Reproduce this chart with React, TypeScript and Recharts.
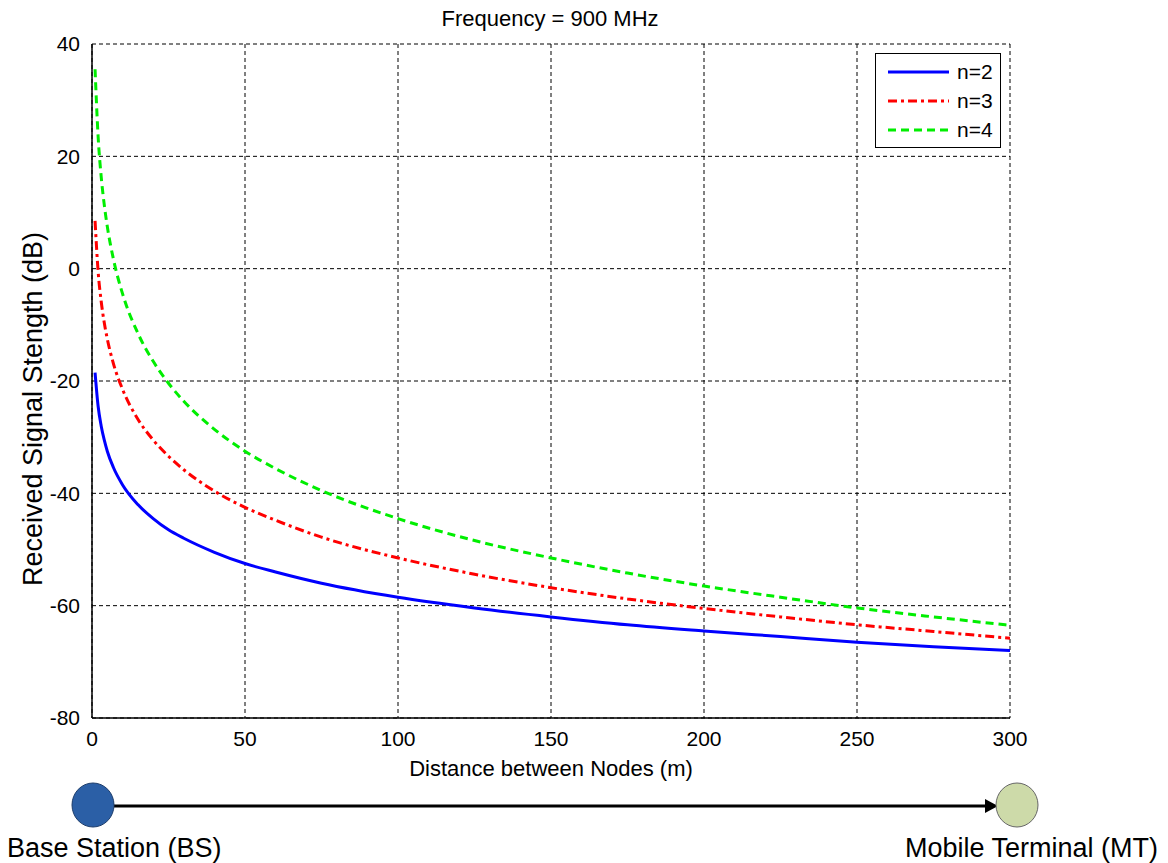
import { LineChart, Line, XAxis, YAxis, CartesianGrid, Legend } from 'recharts'

const distances = [1, 2, 3, 4, 5, 7, 10, 15, 20, 25, 30, 40, 50, 60, 75, 100, 125, 150, 175, 200, 225, 250, 275, 300]
const n2Values = [-18.5, -24.5, -28, -30.5, -32.5, -35.4, -38.5, -42, -44.5, -46.5, -48, -50.5, -52.5, -54, -56, -58.5, -60.4, -62, -63.4, -64.5, -65.5, -66.5, -67.3, -68]
const n3Values = [8.5, -0.5, -5.8, -9.6, -12.5, -16.9, -21.5, -26.8, -30.5, -33.4, -35.8, -39.6, -42.5, -44.8, -47.8, -51.5, -54.4, -56.8, -58.8, -60.5, -62, -63.4, -64.6, -65.8]
const n4Values = [35.5, 23.5, 16.4, 11.4, 7.5, 1.7, -4.5, -11.5, -16.5, -20.4, -23.6, -28.6, -32.5, -35.6, -39.5, -44.5, -48.4, -51.5, -54.2, -56.5, -58.5, -60.4, -62, -63.5]
const xTicks = [0, 50, 100, 150, 200, 250, 300]
const yTicks = [-80, -60, -40, -20, 0, 20, 40]

const seriesInfo = [
  { key: 'n2', name: 'n=2', color: '#0000ff', dash: undefined },
  { key: 'n3', name: 'n=3', color: '#ff0000', dash: '9 4 3 4' },
  { key: 'n4', name: 'n=4', color: '#00ee00', dash: '8 5' },
]

const data = distances.map((d, i) => ({ d, n2: n2Values[i], n3: n3Values[i], n4: n4Values[i] }))

const font = '"Liberation Sans", Arial, Helvetica, sans-serif'

function LegendBox() {
  return (
    <div style={{ border: '1px solid #000', background: '#fff', width: 126, height: 95, boxSizing: 'border-box', paddingTop: 3 }}>
      {seriesInfo.map((s) => (
        <div key={s.key} style={{ display: 'flex', alignItems: 'center', height: 29, fontFamily: font, fontSize: 21, color: '#000' }}>
          <svg width={80} height={10} style={{ marginLeft: 10 }}>
            <line x1={2} y1={5} x2={63} y2={5} stroke={s.color} strokeWidth={3} strokeDasharray={s.dash} />
          </svg>
          <span style={{ marginLeft: -9 }}>{s.name}</span>
        </div>
      ))}
    </div>
  )
}

export default function App() {
  return (
    <div style={{ position: 'absolute', left: 0, top: 0, width: 1168, height: 863, background: '#fff', fontFamily: font }}>
      <LineChart
        width={1168}
        height={863}
        data={data}
        margin={{ top: 44, right: 158, bottom: 105, left: 32 }}
      >
        <text x={550} y={26} textAnchor="middle" fontSize={22} fontFamily={font} fill="#000">
          Frequency = 900 MHz
        </text>
        <text
          x={0}
          y={0}
          transform="translate(42 409) rotate(-90)"
          textAnchor="middle"
          fontSize={27}
          fontFamily={font}
          fill="#000"
        >
          Received Signal Stength (dB)
        </text>
        <CartesianGrid stroke="#000" strokeDasharray="4 3" strokeWidth={1} />
        <XAxis
          dataKey="d"
          type="number"
          domain={[0, 300]}
          ticks={xTicks}
          allowDataOverflow
          height={40}
          axisLine={{ stroke: '#000', strokeWidth: 1.5 }}
          tickLine={false}
          tick={{ fill: '#000', fontSize: 21, fontFamily: font }}
          tickMargin={7}
          label={{ value: 'Distance between Nodes (m)', position: 'insideBottom', offset: -18, fill: '#000', fontSize: 22, fontFamily: font }}
        />
        <YAxis
          type="number"
          domain={[-80, 40]}
          ticks={yTicks}
          allowDataOverflow
          width={60}
          axisLine={{ stroke: '#000', strokeWidth: 1.5 }}
          tickLine={false}
          tick={{ fill: '#000', fontSize: 21, fontFamily: font }}
          tickMargin={6}
        />
        <Legend
          layout="horizontal"
          verticalAlign="middle"
          align="center"
          content={() => <LegendBox />}
          wrapperStyle={{ position: 'absolute', top: 53, left: 875, width: 126 }}
        />
        {seriesInfo.map((s) => (
          <Line
            key={s.key}
            type="monotone"
            dataKey={s.key}
            name={s.name}
            stroke={s.color}
            strokeWidth={3}
            strokeDasharray={s.dash}
            dot={false}
            isAnimationActive={false}
          />
        ))}
      </LineChart>
      <svg width={1168} height={863} style={{ position: 'absolute', left: 0, top: 0, pointerEvents: 'none' }}>
        <line x1={114} y1={806} x2={990} y2={806} stroke="#000" strokeWidth={3} />
        <polygon points="998,806 985,799 985,813" fill="#000" />
        <ellipse cx={93} cy={805} rx={21} ry={22} fill="#2b5fa6" stroke="#1d3d6b" strokeWidth={1} />
        <ellipse cx={1017} cy={805} rx={21} ry={22} fill="#cddaa9" stroke="#666" strokeWidth={1} />
        <text x={7} y={857} fontSize={27} fontFamily={font} fill="#000">Base Station (BS)</text>
        <text x={1158} y={857} fontSize={27} fontFamily={font} fill="#000" textAnchor="end">Mobile Terminal (MT)</text>
      </svg>
    </div>
  )
}
